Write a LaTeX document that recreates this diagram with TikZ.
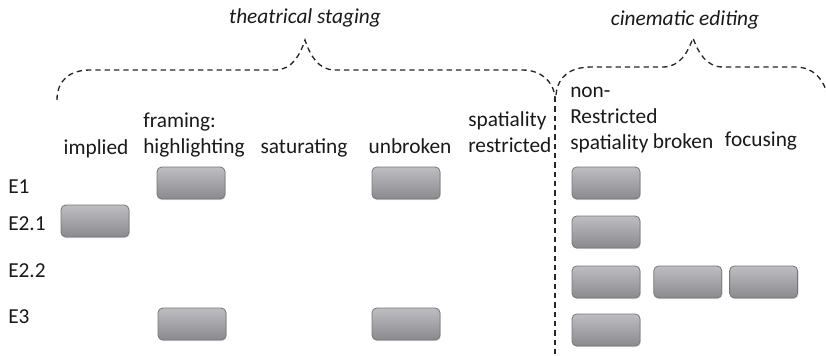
\documentclass[tikz,border=0pt]{standalone}
\usepackage{fontspec}
\setmainfont{Carlito}
\usepackage{xcolor}
\usepackage{tikz}
\usetikzlibrary{positioning,shadows}
\definecolor{celltop}{RGB}{190,190,194}
\definecolor{cellbot}{RGB}{138,138,142}
\definecolor{celledge}{RGB}{118,118,122}

\begin{document}
\begin{tikzpicture}[x=0.75pt,y=-0.75pt,
		every node/.style={font=\fontsize{16}{19.5}\selectfont,text=black!90,inner sep=0pt},
		cell/.style={draw=celledge,line width=0.6pt,rounded corners=3.5pt,top color=celltop,bottom color=cellbot,
			minimum width=51pt,minimum height=24pt,
			drop shadow={opacity=0.25,shadow xshift=0.6pt,shadow yshift=-0.9pt}},
		split/.style={draw=black!85,line width=1pt,dash pattern=on 4pt off 3pt}]
		\clip (0,0) rectangle (826,355);
	
		% groups
		\node[anchor=base] (theat) at (305,23) {\itshape theatrical staging};
		\node[anchor=base] (cine) at (685,25) {\itshape cinematic editing};
		\draw[split] (57,100) .. controls (57,80) and (70,70) .. (90,70) -- (275,70)
			.. controls (292,70) and (300,55) .. (305,40) .. controls (310,55) and (318,70) .. (335,70)
			-- (522,70) .. controls (540,70) and (553,80) .. (555,97);
		\draw[split] (556,95) .. controls (558,76) and (570,67) .. (592,67) -- (663,67)
			.. controls (680,67) and (688,52) .. (693,38) .. controls (698,52) and (706,67) .. (723,67)
			-- (795,67) .. controls (813,67) and (824,78) .. (829,100);
		\coordinate (cut) at (555,97);
		\coordinate (foot) at (555,355);
		\draw[split] (cut) -- (foot);
	
		% columns
		\node[anchor=base] (imp) at (96,154) {implied};
		\node[anchor=base west,align=left] (hl) at (143,153) {framing:\\highlighting};
		\node[anchor=base] (sat) at (304,153) {saturating};
		\node[anchor=base] (unb) at (410,153) {unbroken};
		\node[anchor=base west,align=left] (sr) at (468,152) {spatiality\\restricted};
		\node[anchor=base west,align=left] (nr) at (570,149) {non-\\Restricted\\spatiality};
		\node[anchor=base] (brk) at (683,148) {broken};
		\node[anchor=base] (foc) at (761,146) {focusing};
	
		% rows
		\node[anchor=base west] (e1) at (8,193) {E1};
		\node[anchor=base west] (e21) at (8,230) {E2.1};
		\node[anchor=base west] (e22) at (8,277) {E2.2};
		\node[anchor=base west] (e3) at (8,323) {E3};
	
		% cells
		\node[cell] (e1hl) at (191,183) {};
		\node[cell] (e1ub) at (406,183) {};
		\node[cell] (e1nr) at (606,183) {};
		\node[cell] (e21im) at (95,221) {};
		\node[cell] (e21nr) at (606,232) {};
		\node[cell] (e22nr) at (606,282) {};
		\node[cell,right=9.75pt of e22nr] (e22br) {};
		\node[cell,right=5.25pt of e22br] (e22fc) {};
		\node[cell] (e3hl) at (192,324) {};
		\node[cell] (e3ub) at (406,324) {};
		\node[cell] (e3nr) at (606,330) {};
		\end{tikzpicture}
\end{document}
